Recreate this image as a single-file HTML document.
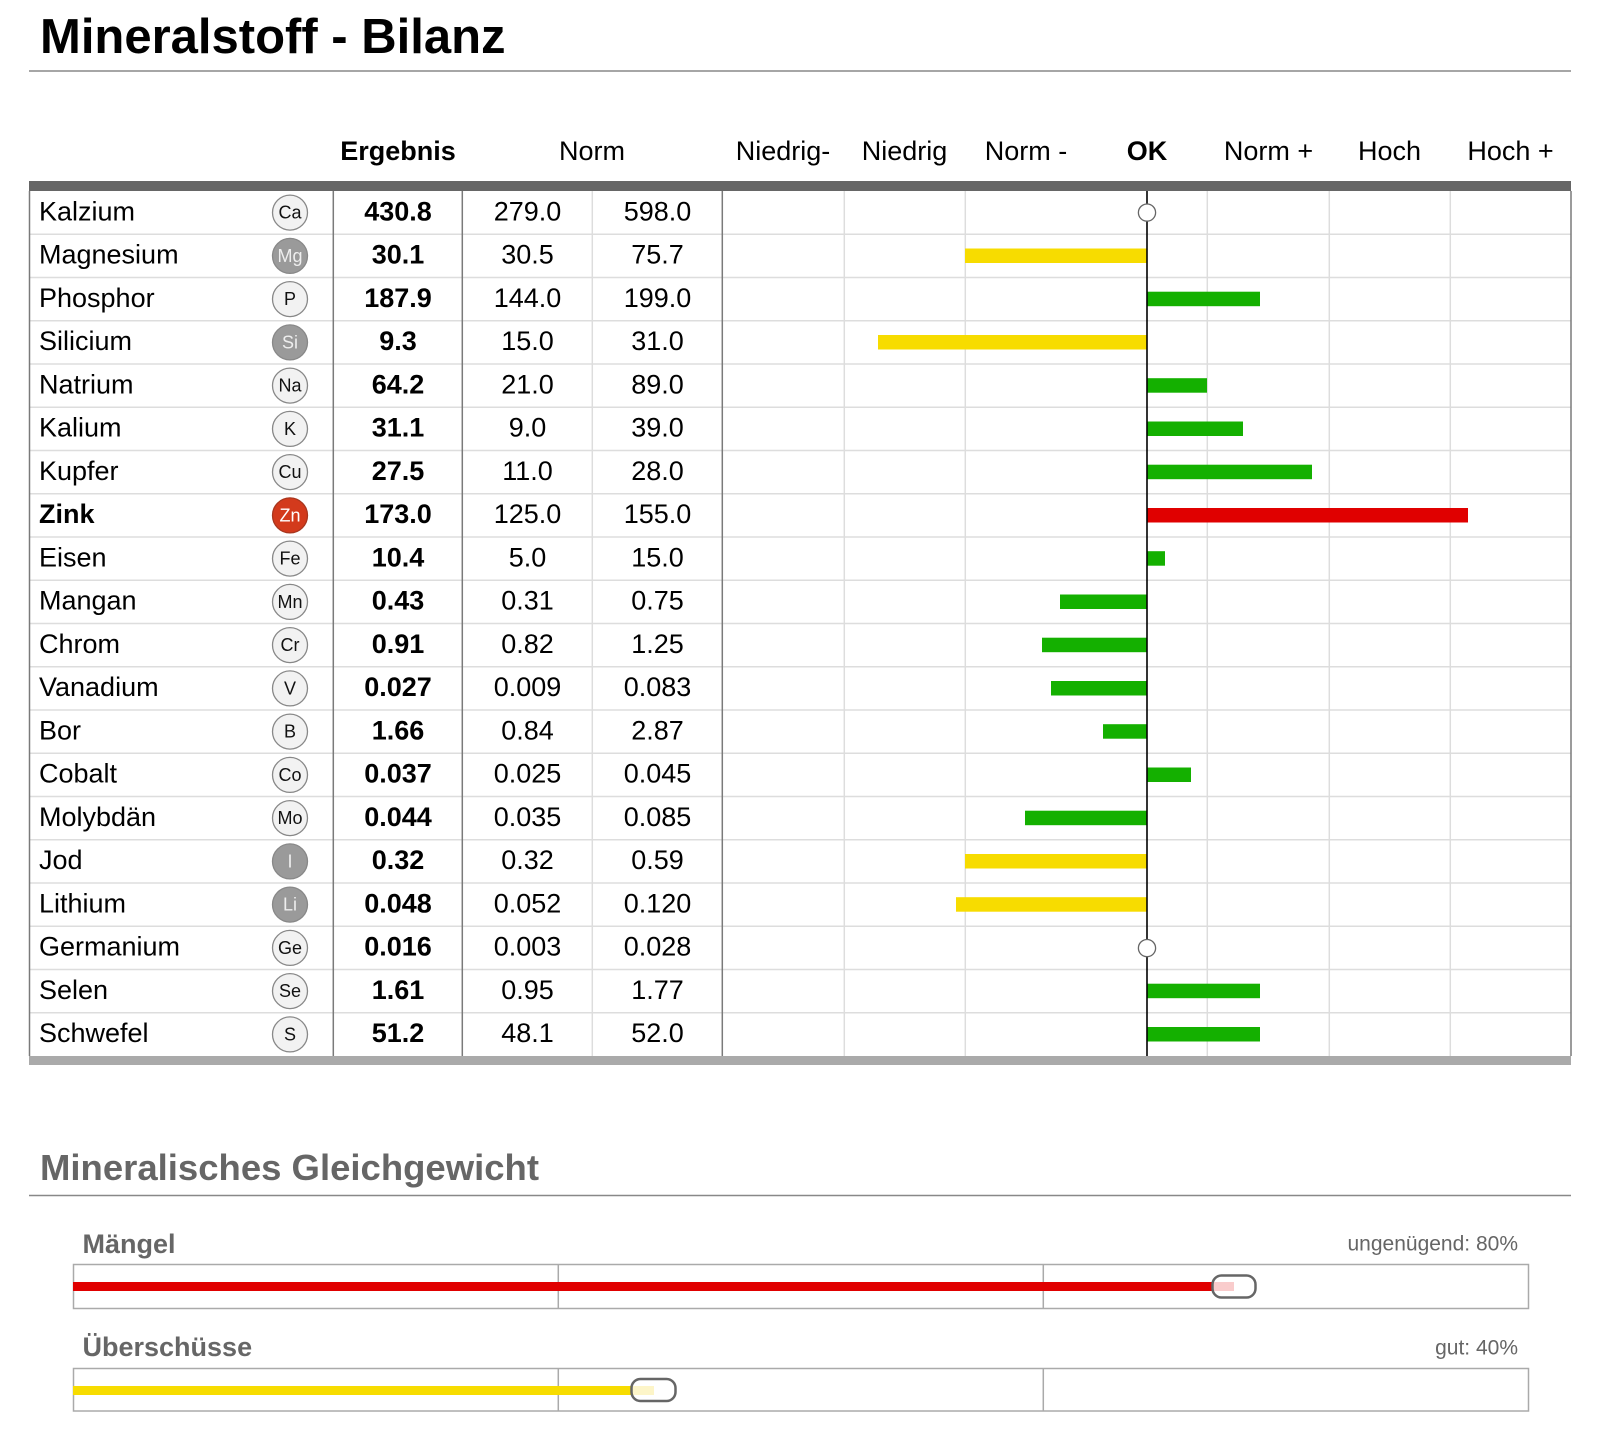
<!DOCTYPE html>
<html><head><meta charset="utf-8">
<style>
html,body{margin:0;padding:0;background:#fff;}
svg{display:block;}
text{font-family:"Liberation Sans",Arial,sans-serif;}
</style></head>
<body>
<svg width="1618" height="1438" viewBox="0 0 1618 1438" xmlns="http://www.w3.org/2000/svg">
<rect width="1618" height="1438" fill="#fff"/>
<!-- Title -->
<text x="40" y="53" font-size="49" font-weight="bold" fill="#000">Mineralstoff - Bilanz</text>
<line x1="29" y1="71" x2="1571" y2="71" stroke="#888" stroke-width="1.5"/>

<!-- Header -->
<g font-size="27" fill="#000" text-anchor="middle">
<text x="398" y="160" font-weight="bold">Ergebnis</text>
<text x="592" y="160">Norm</text>
<text x="783" y="160">Niedrig-</text>
<text x="904.5" y="160">Niedrig</text>
<text x="1026" y="160">Norm -</text>
<text x="1147" y="160" font-weight="bold">OK</text>
<text x="1268.5" y="160">Norm +</text>
<text x="1389.5" y="160">Hoch</text>
<text x="1510.5" y="160">Hoch +</text>
</g>
<rect x="29" y="181" width="1542" height="10" fill="#666"/>

<!-- row lines -->
<g stroke="#dddddd" stroke-width="1.5">
<line x1="29" y1="234.25" x2="1571" y2="234.25"/>
<line x1="29" y1="277.5" x2="1571" y2="277.5"/>
<line x1="29" y1="320.75" x2="1571" y2="320.75"/>
<line x1="29" y1="364" x2="1571" y2="364"/>
<line x1="29" y1="407.25" x2="1571" y2="407.25"/>
<line x1="29" y1="450.5" x2="1571" y2="450.5"/>
<line x1="29" y1="493.75" x2="1571" y2="493.75"/>
<line x1="29" y1="537" x2="1571" y2="537"/>
<line x1="29" y1="580.25" x2="1571" y2="580.25"/>
<line x1="29" y1="623.5" x2="1571" y2="623.5"/>
<line x1="29" y1="666.75" x2="1571" y2="666.75"/>
<line x1="29" y1="710" x2="1571" y2="710"/>
<line x1="29" y1="753.25" x2="1571" y2="753.25"/>
<line x1="29" y1="796.5" x2="1571" y2="796.5"/>
<line x1="29" y1="839.75" x2="1571" y2="839.75"/>
<line x1="29" y1="883" x2="1571" y2="883"/>
<line x1="29" y1="926.25" x2="1571" y2="926.25"/>
<line x1="29" y1="969.5" x2="1571" y2="969.5"/>
<line x1="29" y1="1012.75" x2="1571" y2="1012.75"/>
</g>
<!-- vertical light lines -->
<g stroke="#dddddd" stroke-width="1.5">
<line x1="592.3" y1="191" x2="592.3" y2="1056"/>
<line x1="844.3" y1="191" x2="844.3" y2="1056"/>
<line x1="965.3" y1="191" x2="965.3" y2="1056"/>
<line x1="1207.3" y1="191" x2="1207.3" y2="1056"/>
<line x1="1329.3" y1="191" x2="1329.3" y2="1056"/>
<line x1="1450.3" y1="191" x2="1450.3" y2="1056"/>
</g>
<!-- vertical dark lines -->
<g stroke="#7a7a7a" stroke-width="1.5">
<line x1="29.5" y1="191" x2="29.5" y2="1056"/>
<line x1="333.3" y1="191" x2="333.3" y2="1056"/>
<line x1="462.3" y1="191" x2="462.3" y2="1056"/>
<line x1="722.3" y1="191" x2="722.3" y2="1056"/>
<line x1="1571" y1="191" x2="1571" y2="1056"/>
</g>

<!-- bars -->
<g>
<rect x="965" y="248.5" width="182" height="14.5" fill="#f7dc00"/>
<rect x="1147" y="291.7" width="113" height="14.5" fill="#14b000"/>
<rect x="878" y="335" width="269" height="14.5" fill="#f7dc00"/>
<rect x="1147" y="378.2" width="60" height="14.5" fill="#14b000"/>
<rect x="1147" y="421.5" width="96" height="14.5" fill="#14b000"/>
<rect x="1147" y="464.7" width="165" height="14.5" fill="#14b000"/>
<rect x="1147" y="508" width="321" height="14.5" fill="#e00000"/>
<rect x="1147" y="551.2" width="18" height="14.5" fill="#14b000"/>
<rect x="1060" y="594.5" width="87" height="14.5" fill="#14b000"/>
<rect x="1042" y="637.7" width="105" height="14.5" fill="#14b000"/>
<rect x="1051" y="681" width="96" height="14.5" fill="#14b000"/>
<rect x="1103" y="724.2" width="44" height="14.5" fill="#14b000"/>
<rect x="1147" y="767.5" width="44" height="14.5" fill="#14b000"/>
<rect x="1025" y="810.7" width="122" height="14.5" fill="#14b000"/>
<rect x="965" y="854" width="182" height="14.5" fill="#f7dc00"/>
<rect x="956" y="897.2" width="191" height="14.5" fill="#f7dc00"/>
<rect x="1147" y="983.7" width="113" height="14.5" fill="#14b000"/>
<rect x="1147" y="1027" width="113" height="14.5" fill="#14b000"/>
</g>
<line x1="1147" y1="191" x2="1147" y2="1056" stroke="#000" stroke-width="1.6"/>
<circle cx="1147" cy="212.6" r="8.6" fill="#fff" stroke="#666" stroke-width="1.3"/>
<circle cx="1147" cy="948.1" r="8.6" fill="#fff" stroke="#666" stroke-width="1.3"/>

<rect x="29" y="1056" width="1542" height="9" fill="#aaa"/>

<!-- names -->
<g font-size="27" fill="#000">
<text x="39" y="220.3">Kalzium</text>
<text x="39" y="263.5">Magnesium</text>
<text x="39" y="306.8">Phosphor</text>
<text x="39" y="350">Silicium</text>
<text x="39" y="393.3">Natrium</text>
<text x="39" y="436.5">Kalium</text>
<text x="39" y="479.8">Kupfer</text>
<text x="39" y="523" font-weight="bold">Zink</text>
<text x="39" y="566.3">Eisen</text>
<text x="39" y="609.5">Mangan</text>
<text x="39" y="652.8">Chrom</text>
<text x="39" y="696">Vanadium</text>
<text x="39" y="739.3">Bor</text>
<text x="39" y="782.5">Cobalt</text>
<text x="39" y="825.8">Molybdän</text>
<text x="39" y="869">Jod</text>
<text x="39" y="912.3">Lithium</text>
<text x="39" y="955.5">Germanium</text>
<text x="39" y="998.8">Selen</text>
<text x="39" y="1042">Schwefel</text>
</g>

<!-- symbols -->
<g stroke="#888" stroke-width="1.3">
<circle cx="290" cy="212.6" r="17.5" fill="#f2f2f2"/>
<circle cx="290" cy="255.9" r="17.5" fill="#9a9a9a"/>
<circle cx="290" cy="299.1" r="17.5" fill="#f2f2f2"/>
<circle cx="290" cy="342.4" r="17.5" fill="#9a9a9a"/>
<circle cx="290" cy="385.6" r="17.5" fill="#f2f2f2"/>
<circle cx="290" cy="428.9" r="17.5" fill="#f2f2f2"/>
<circle cx="290" cy="472.1" r="17.5" fill="#f2f2f2"/>
<circle cx="290" cy="515.4" r="17.5" fill="#d33a1c" stroke="#a8361e"/>
<circle cx="290" cy="558.6" r="17.5" fill="#f2f2f2"/>
<circle cx="290" cy="601.9" r="17.5" fill="#f2f2f2"/>
<circle cx="290" cy="645.1" r="17.5" fill="#f2f2f2"/>
<circle cx="290" cy="688.4" r="17.5" fill="#f2f2f2"/>
<circle cx="290" cy="731.6" r="17.5" fill="#f2f2f2"/>
<circle cx="290" cy="774.9" r="17.5" fill="#f2f2f2"/>
<circle cx="290" cy="818.1" r="17.5" fill="#f2f2f2"/>
<circle cx="290" cy="861.4" r="17.5" fill="#9a9a9a"/>
<circle cx="290" cy="904.6" r="17.5" fill="#9a9a9a"/>
<circle cx="290" cy="947.9" r="17.5" fill="#f2f2f2"/>
<circle cx="290" cy="991.1" r="17.5" fill="#f2f2f2"/>
<circle cx="290" cy="1034.4" r="17.5" fill="#f2f2f2"/>
</g>
<g font-size="18" text-anchor="middle" fill="#111">
<text x="290" y="218.6">Ca</text>
<text x="290" y="261.9" fill="#eee">Mg</text>
<text x="290" y="305.1">P</text>
<text x="290" y="348.4" fill="#eee">Si</text>
<text x="290" y="391.6">Na</text>
<text x="290" y="434.9">K</text>
<text x="290" y="478.1">Cu</text>
<text x="290" y="521.4" fill="#fff">Zn</text>
<text x="290" y="564.6">Fe</text>
<text x="290" y="607.9">Mn</text>
<text x="290" y="651.1">Cr</text>
<text x="290" y="694.4">V</text>
<text x="290" y="737.6">B</text>
<text x="290" y="780.9">Co</text>
<text x="290" y="824.1">Mo</text>
<text x="290" y="867.4" fill="#eee">I</text>
<text x="290" y="910.6" fill="#eee">Li</text>
<text x="290" y="953.9">Ge</text>
<text x="290" y="997.1">Se</text>
<text x="290" y="1040.4">S</text>
</g>

<!-- values -->
<g font-size="27" text-anchor="middle" fill="#000" font-weight="bold">
<text x="398" y="220.3">430.8</text>
<text x="398" y="263.5">30.1</text>
<text x="398" y="306.8">187.9</text>
<text x="398" y="350">9.3</text>
<text x="398" y="393.3">64.2</text>
<text x="398" y="436.5">31.1</text>
<text x="398" y="479.8">27.5</text>
<text x="398" y="523">173.0</text>
<text x="398" y="566.3">10.4</text>
<text x="398" y="609.5">0.43</text>
<text x="398" y="652.8">0.91</text>
<text x="398" y="696">0.027</text>
<text x="398" y="739.3">1.66</text>
<text x="398" y="782.5">0.037</text>
<text x="398" y="825.8">0.044</text>
<text x="398" y="869">0.32</text>
<text x="398" y="912.3">0.048</text>
<text x="398" y="955.5">0.016</text>
<text x="398" y="998.8">1.61</text>
<text x="398" y="1042">51.2</text>
</g>
<g font-size="27" text-anchor="middle" fill="#000">
<text x="527.5" y="220.3">279.0</text><text x="657.5" y="220.3">598.0</text>
<text x="527.5" y="263.5">30.5</text><text x="657.5" y="263.5">75.7</text>
<text x="527.5" y="306.8">144.0</text><text x="657.5" y="306.8">199.0</text>
<text x="527.5" y="350">15.0</text><text x="657.5" y="350">31.0</text>
<text x="527.5" y="393.3">21.0</text><text x="657.5" y="393.3">89.0</text>
<text x="527.5" y="436.5">9.0</text><text x="657.5" y="436.5">39.0</text>
<text x="527.5" y="479.8">11.0</text><text x="657.5" y="479.8">28.0</text>
<text x="527.5" y="523">125.0</text><text x="657.5" y="523">155.0</text>
<text x="527.5" y="566.3">5.0</text><text x="657.5" y="566.3">15.0</text>
<text x="527.5" y="609.5">0.31</text><text x="657.5" y="609.5">0.75</text>
<text x="527.5" y="652.8">0.82</text><text x="657.5" y="652.8">1.25</text>
<text x="527.5" y="696">0.009</text><text x="657.5" y="696">0.083</text>
<text x="527.5" y="739.3">0.84</text><text x="657.5" y="739.3">2.87</text>
<text x="527.5" y="782.5">0.025</text><text x="657.5" y="782.5">0.045</text>
<text x="527.5" y="825.8">0.035</text><text x="657.5" y="825.8">0.085</text>
<text x="527.5" y="869">0.32</text><text x="657.5" y="869">0.59</text>
<text x="527.5" y="912.3">0.052</text><text x="657.5" y="912.3">0.120</text>
<text x="527.5" y="955.5">0.003</text><text x="657.5" y="955.5">0.028</text>
<text x="527.5" y="998.8">0.95</text><text x="657.5" y="998.8">1.77</text>
<text x="527.5" y="1042">48.1</text><text x="657.5" y="1042">52.0</text>
</g>

<!-- Section 2 -->
<text x="40" y="1180" font-size="36.5" font-weight="bold" fill="#666">Mineralisches Gleichgewicht</text>
<line x1="29" y1="1195.5" x2="1571" y2="1195.5" stroke="#888" stroke-width="1.5"/>

<text x="82.5" y="1253" font-size="27" font-weight="bold" fill="#666">Mängel</text>
<text x="1518" y="1250.7" font-size="21" fill="#666" text-anchor="end">ungenügend: 80%</text>
<rect x="73.5" y="1264.5" width="1455" height="44" fill="#fff" stroke="#aaa" stroke-width="1.5"/>
<line x1="558.3" y1="1264.5" x2="558.3" y2="1308.5" stroke="#aaa" stroke-width="1.5"/>
<line x1="1043.3" y1="1264.5" x2="1043.3" y2="1308.5" stroke="#aaa" stroke-width="1.5"/>
<rect x="73" y="1282" width="1139" height="9" fill="#e00000"/>
<rect x="1212" y="1282" width="22" height="9" fill="#f9cccc"/>
<rect x="1212.5" y="1275.5" width="43" height="22" rx="9" fill="none" stroke="#666" stroke-width="2.5"/>

<text x="82.5" y="1356" font-size="27" font-weight="bold" fill="#666">Überschüsse</text>
<text x="1518" y="1354.3" font-size="21" fill="#666" text-anchor="end">gut: 40%</text>
<rect x="73.5" y="1368.5" width="1455" height="42.5" fill="#fff" stroke="#aaa" stroke-width="1.5"/>
<line x1="558.3" y1="1368.5" x2="558.3" y2="1411" stroke="#aaa" stroke-width="1.5"/>
<line x1="1043.3" y1="1368.5" x2="1043.3" y2="1411" stroke="#aaa" stroke-width="1.5"/>
<rect x="73" y="1386" width="558" height="9" fill="#f7dc00"/>
<rect x="631" y="1386" width="23" height="9" fill="#fdf5c8"/>
<rect x="631.5" y="1379" width="44" height="22" rx="9" fill="none" stroke="#666" stroke-width="2.5"/>
</svg>
</body></html>
